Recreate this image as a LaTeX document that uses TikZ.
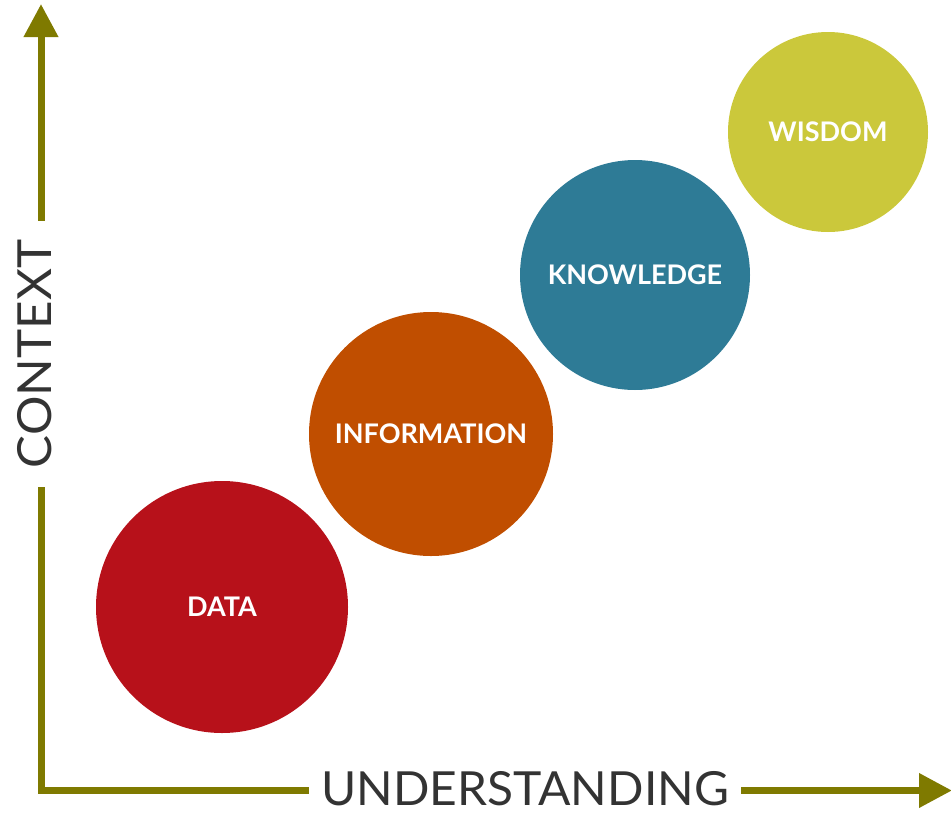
\documentclass[tikz,border=0pt]{standalone}
\usepackage{fontspec}
\setmainfont{Lato}
\usetikzlibrary{arrows.meta}
\definecolor{axisol}{HTML}{7F7A00}
\definecolor{cdata}{HTML}{B7111A}
\definecolor{cinfo}{HTML}{C04E00}
\definecolor{cknow}{HTML}{2E7B96}
\definecolor{cwis}{HTML}{CBC83B}
\definecolor{labgray}{HTML}{333333}
\tikzset{
  axisline/.style={draw=axisol, line width=7pt, line join=miter},
  axisarrow/.style={axisline, -{Triangle[length=33pt,width=33pt]}},
  axislabel/.style={text=labgray, font=\fontsize{47}{50}\selectfont, inner sep=0pt, outer xsep=12pt},
  stage/.style={circle, inner sep=0pt, text=white, font=\bfseries\fontsize{27}{30}\selectfont},
}
\begin{document}
\begin{tikzpicture}[x=1pt,y=-1pt]
\useasboundingbox (0,0) rectangle (951,814);
% circles
\node[stage, fill=cdata, minimum size=252pt] (data) at (222,607) {DATA};
\node[stage, fill=cinfo, minimum size=244pt] (info) at (431,434) {INFORMATION};
\node[stage, fill=cknow, minimum size=230pt] (know) at (635,275) {KNOWLEDGE};
\node[stage, fill=cwis, minimum size=200pt] (wis) at (828,132) {WISDOM};
% axis labels
\node[axislabel, xscale=1.02] (und) at (525,789) {UNDERSTANDING};
\node[axislabel, rotate=90, xscale=1.05, outer xsep=18pt] (ctx) at (35,354) {CONTEXT};
% axes
\coordinate (orig) at (41,790.5);
\coordinate (ytip) at (41,4);
\coordinate (xtip) at (952,790.5);
\draw[axisline] (und.west |- orig) -- (orig) -- (ctx.west -| orig);
\draw[axisarrow] (ctx.east -| orig) -- (ytip);
\draw[axisarrow] (und.east |- orig) -- (xtip);
\end{tikzpicture}
\end{document}
